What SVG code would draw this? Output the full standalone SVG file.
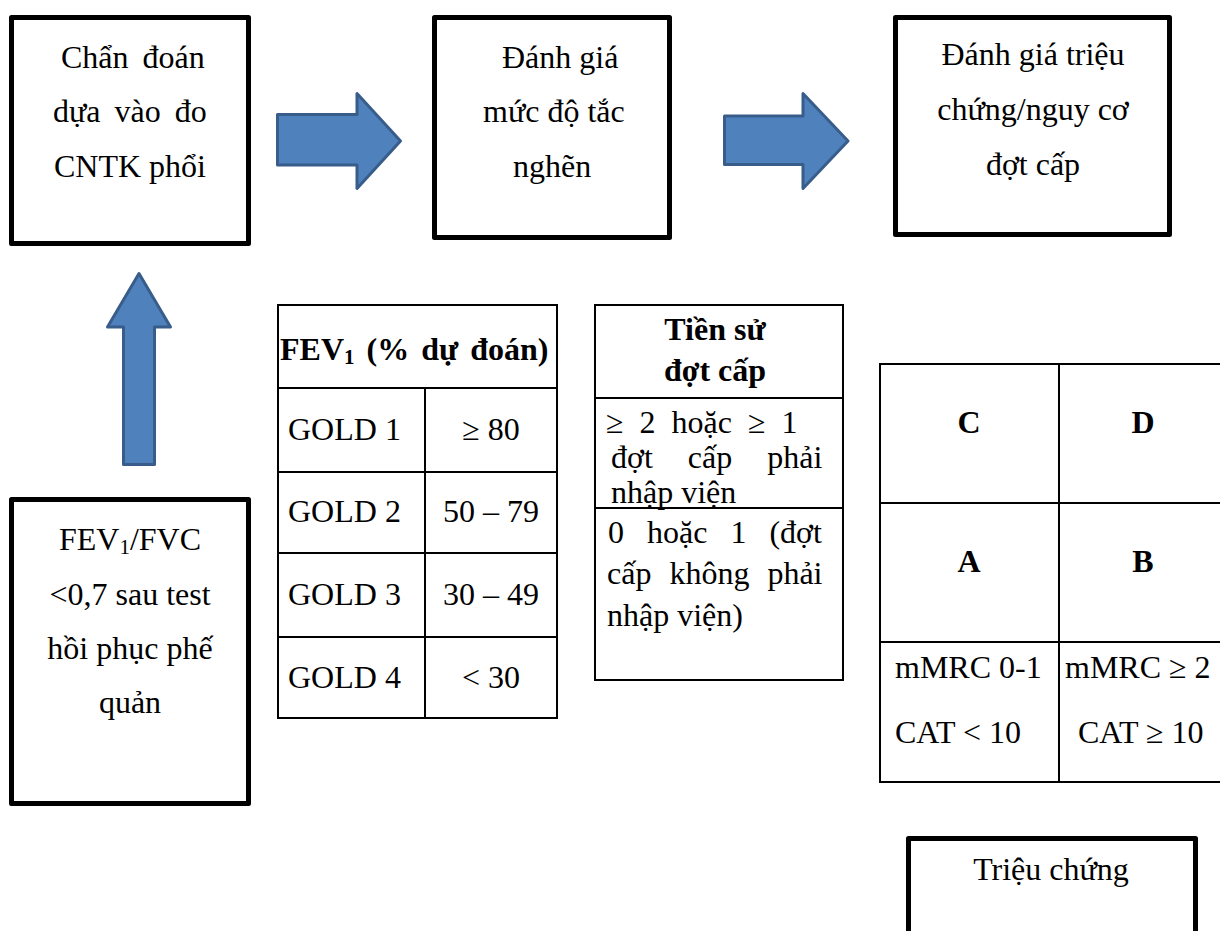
<svg xmlns="http://www.w3.org/2000/svg" width="1220" height="931" viewBox="0 0 1220 931" font-family="'Liberation Serif', 'Times New Roman', serif">
<style>
.box{fill:#fff;stroke:#000;stroke-width:5;stroke-linejoin:round}
.cell{fill:none;stroke:#000;stroke-width:2}
text{font-family:"Liberation Serif","Times New Roman",serif;font-size:32px;fill:#000}
.bold{font-weight:bold}
.mid{text-anchor:middle}
.arrow{fill:#4F81BD;stroke:#385D8A;stroke-width:3;stroke-linejoin:round}
</style>
<rect width="1220" height="931" fill="#fff"/>

<g id="connectors">
  <path class="arrow" d="M277.5,114.5 H357 V93.5 L400.5,141 L357,188.5 V165 H277.5 Z"/>
  <path class="arrow" d="M724.5,116 H803 V93.5 L848,141 L803,188.5 V164.5 H724.5 Z"/>
  <path class="arrow" d="M123.5,464.5 V327 H107.5 L139,273.5 L170.5,327 H154.5 V464.5 Z"/>
</g>

<g id="node-chan-doan">
  <rect class="box" x="11.5" y="17.5" width="237" height="226"/>
  <text x="61" y="68" word-spacing="6">Chẩn đoán</text>
  <text x="53" y="122" word-spacing="6">dựa vào đo</text>
  <text x="54" y="177">CNTK phổi</text>
</g>

<g id="node-danh-gia-muc-do">
  <rect class="box" x="434.5" y="17.5" width="235" height="220"/>
  <text x="502" y="68">Đánh giá</text>
  <text x="483" y="122">mức độ tắc</text>
  <text x="513" y="177">nghẽn</text>
</g>

<g id="node-danh-gia-trieu-chung">
  <rect class="box" x="895.5" y="17.5" width="274" height="217"/>
  <text class="mid" x="1033" y="65">Đánh giá triệu</text>
  <text class="mid" x="1033" y="120">chứng/nguy cơ</text>
  <text class="mid" x="1033" y="175">đợt cấp</text>
</g>

<g id="node-fev1-fvc">
  <rect class="box" x="11.5" y="499.5" width="237" height="304"/>
  <text class="mid" x="130" y="550">FEV<tspan font-size="21" dy="4">1</tspan><tspan dy="-4">/FVC</tspan></text>
  <text class="mid" x="130" y="605">&lt;0,7 sau test</text>
  <text class="mid" x="130" y="659">hồi phục phế</text>
  <text class="mid" x="130" y="713">quản</text>
</g>

<g id="node-fev1-table">
  <rect class="cell" x="278" y="305" width="279" height="413"/>
  <line class="cell" x1="278" y1="388" x2="557" y2="388"/>
  <line class="cell" x1="278" y1="472" x2="557" y2="472"/>
  <line class="cell" x1="278" y1="553" x2="557" y2="553"/>
  <line class="cell" x1="278" y1="637" x2="557" y2="637"/>
  <line class="cell" x1="425" y1="388" x2="425" y2="718"/>
  <text class="bold" x="280" y="360" word-spacing="4">FEV<tspan font-size="21" dy="4">1</tspan><tspan dy="-4"> (% dự đoán)</tspan></text>
  <text x="288" y="440">GOLD 1</text>
  <text x="288" y="522">GOLD 2</text>
  <text x="288" y="605">GOLD 3</text>
  <text x="288" y="688">GOLD 4</text>
  <text class="mid" x="491" y="440">≥ 80</text>
  <text class="mid" x="491" y="522">50 – 79</text>
  <text class="mid" x="491" y="605">30 – 49</text>
  <text class="mid" x="491" y="688">&lt; 30</text>
</g>

<g id="node-tien-su-table">
  <rect class="cell" x="595" y="305" width="248" height="375"/>
  <line class="cell" x1="595" y1="398" x2="843" y2="398"/>
  <line class="cell" x1="595" y1="508" x2="843" y2="508"/>
  <text class="bold mid" x="715" y="340">Tiền sử</text>
  <text class="bold mid" x="715" y="381">đợt cấp</text>
  <text x="606" y="433" word-spacing="8">≥ 2 hoặc ≥ 1</text>
  <text x="611" y="468" word-spacing="27">đợt cấp phải</text>
  <text x="611" y="503">nhập viện</text>
  <text x="608" y="543" word-spacing="15">0 hoặc 1 (đợt</text>
  <text x="607" y="584" word-spacing="10">cấp không phải</text>
  <text x="607" y="626">nhập viện)</text>
</g>

<g id="node-abcd-table">
  <rect class="cell" x="880" y="364" width="346" height="418"/>
  <line class="cell" x1="880" y1="503" x2="1226" y2="503"/>
  <line class="cell" x1="880" y1="642" x2="1226" y2="642"/>
  <line class="cell" x1="1059" y1="364" x2="1059" y2="782"/>
  <text class="bold mid" x="969" y="433">C</text>
  <text class="bold mid" x="1143" y="433">D</text>
  <text class="bold mid" x="969" y="572">A</text>
  <text class="bold mid" x="1143" y="572">B</text>
  <text x="895" y="678">mMRC 0-1</text>
  <text x="895" y="743">CAT &lt; 10</text>
  <text x="1065" y="678">mMRC ≥ 2</text>
  <text x="1078" y="743">CAT ≥ 10</text>
</g>

<g id="node-trieu-chung">
  <rect class="box" x="908.5" y="838.5" width="287" height="110"/>
  <text class="mid" x="1051" y="880">Triệu chứng</text>
</g>
</svg>
